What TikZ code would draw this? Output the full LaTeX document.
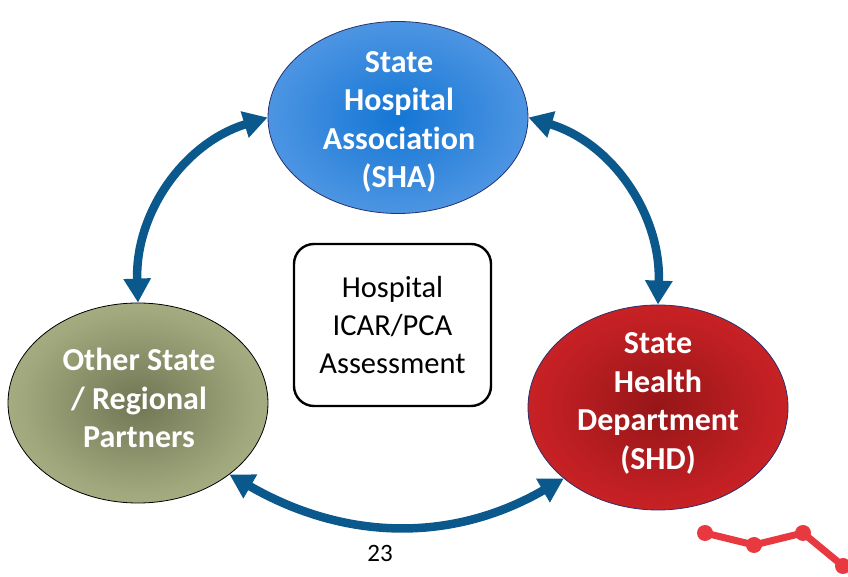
\documentclass[tikz,border=0pt]{standalone}
\usepackage{fontspec}
\setmainfont[Ligatures=NoCommon]{Carlito}
\usetikzlibrary{shapes.geometric,arrows.meta}
\definecolor{arrowblue}{RGB}{11,88,140}
\definecolor{navyedge}{RGB}{40,50,110}
\definecolor{chartred}{RGB}{232,56,64}
\definecolor{shaIn}{RGB}{20,118,212}
\definecolor{shaMid}{RGB}{70,145,225}
\definecolor{shaOut}{RGB}{128,178,240}
\definecolor{ospIn}{RGB}{112,118,84}
\definecolor{ospMid}{RGB}{160,167,124}
\definecolor{ospOut}{RGB}{197,204,158}
\definecolor{shdIn}{RGB}{150,22,24}
\definecolor{shdMid}{RGB}{195,32,36}
\definecolor{shdOut}{RGB}{228,42,45}
\pgfdeclareradialshading{shaShade}{\pgfpoint{0bp}{0bp}}{color(0bp)=(shaIn); color(22bp)=(shaMid); color(48bp)=(shaOut); color(75bp)=(shaOut)}
\pgfdeclareradialshading{ospShade}{\pgfpoint{0bp}{0bp}}{color(0bp)=(ospIn); color(22bp)=(ospMid); color(46bp)=(ospOut); color(75bp)=(ospOut)}
\pgfdeclareradialshading{shdShade}{\pgfpoint{0bp}{0bp}}{color(0bp)=(shdIn); color(22bp)=(shdMid); color(46bp)=(shdOut); color(75bp)=(shdOut)}
\tikzset{
  ell/.style={ellipse, inner sep=0pt, line width=0.8pt},
  elltext/.style={align=center, text=white, inner sep=0pt,
    font=\bfseries\fontsize{32}{38.5}\selectfont},
  assess/.style={draw=black, line width=2.4pt, rounded corners=20pt,
    minimum width=197pt, minimum height=162pt, align=center, inner sep=0pt,
    font=\fontsize{30.5}{38}\selectfont},
  link/.style={draw=arrowblue, line width=8.5pt,
    {Triangle[length=24pt,width=26pt]}-{Triangle[length=24pt,width=26pt]}},
  dot/.style={circle, fill=chartred, inner sep=0pt, minimum size=16pt},
  chartline/.style={draw=chartred, line width=7pt},
  pagenum/.style={font=\fontsize{25}{30}\selectfont}
}
\begin{document}
\begin{tikzpicture}[x=1pt,y=1pt]
\path[use as bounding box] (0,0) rectangle (848,577);
\node[ell, draw=navyedge, shade, shading=shaShade, minimum width=260pt, minimum height=192pt] (sha) at (398,459.5) {};
\node[elltext] (shaT) at (399,455) {State\\Hospital\\Association\\(SHA)};
\node[ell, draw=black, shade, shading=ospShade, minimum width=260pt, minimum height=200pt] (osp) at (138,174) {};
\node[elltext] (ospT) at (139,179) {Other State\\/ Regional\\Partners};
\node[ell, draw=navyedge, shade, shading=shdShade, minimum width=260pt, minimum height=205pt] (shd) at (658,169.5) {};
\node[elltext] (shdT) at (658,173.5) {State\\Health\\Department\\(SHD)};
\node[assess] (box) at (392.5,252) {Hospital\\ICAR/PCA\\Assessment};
\draw[link] (sha.west) to[out=197, in=92] (osp.north);
\draw[link] (sha.east) to[out=-17, in=88] (shd.north);
\draw[link] (osp.-38) to[out=-30, in=-150] (shd.-143);
\node[pagenum] (num) at (380,24) {23};
\node[dot] (p1) at (705,44) {};
\node[dot] (p2) at (754,32) {};
\node[dot] (p3) at (803,44) {};
\node[dot] (p4) at (843,11) {};
\draw[chartline] (p1.center) -- (p2.center) -- (p3.center) -- (p4.center);
\end{tikzpicture}
\end{document}
